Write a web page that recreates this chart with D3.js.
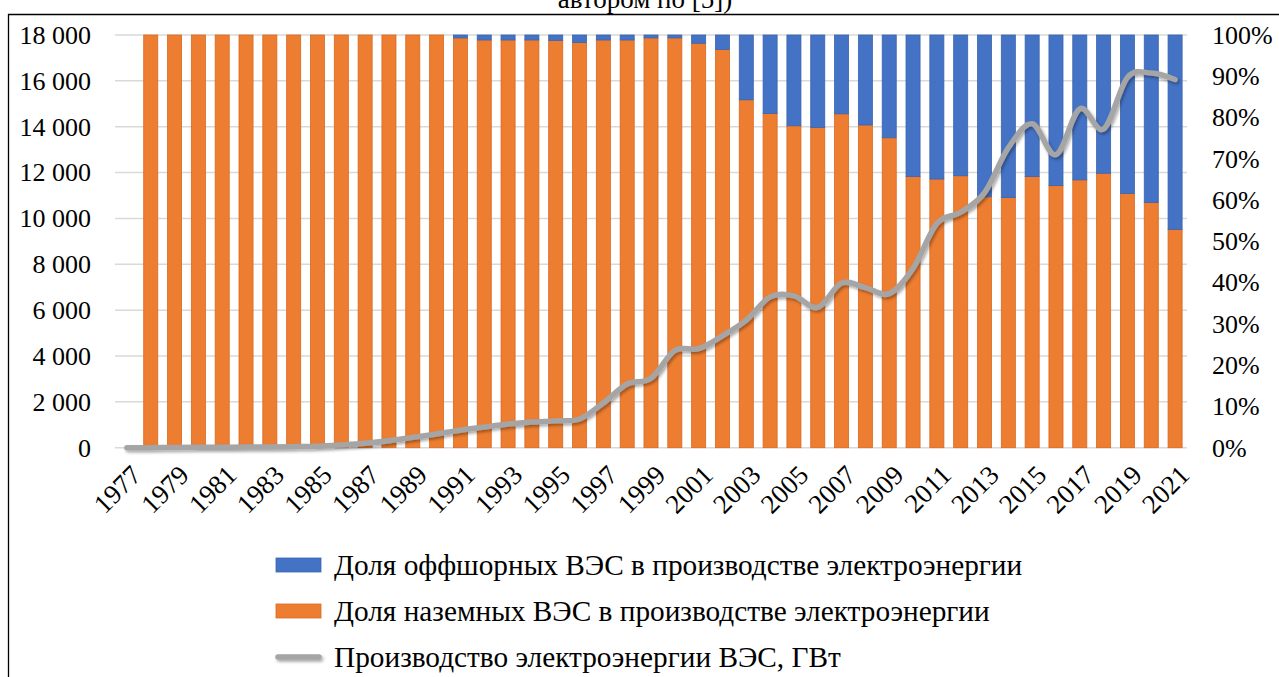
<!DOCTYPE html>
<html>
<head>
<meta charset="utf-8">
<script src="https://cdn.jsdelivr.net/npm/d3@7"></script>
<style>
  html, body { margin: 0; padding: 0; background: #fff; }
  svg { display: block; font-family: "Liberation Serif", "Times New Roman", serif; }
</style>
</head>
<body>
<svg id="chart" width="1279" height="677"></svg>
<script>
// Годы (категории оси X)
const years = [1977, 1978, 1979, 1980, 1981, 1982, 1983, 1984, 1985, 1986,
  1987, 1988, 1989, 1990, 1991, 1992, 1993, 1994, 1995, 1996,
  1997, 1998, 1999, 2000, 2001, 2002, 2003, 2004, 2005, 2006,
  2007, 2008, 2009, 2010, 2011, 2012, 2013, 2014, 2015, 2016,
  2017, 2018, 2019, 2020, 2021];

// Производство электроэнергии ВЭС (левая ось)
const production = [0, 0, 10, 15, 20, 30, 35, 45, 65, 120,
  190, 300, 450, 600, 760, 900, 1030, 1120, 1170, 1250,
  1950, 2780, 3030, 4240, 4320, 4880, 5560, 6580, 6620, 6120,
  7180, 6980, 6720, 7820, 9780, 10270, 11120, 13080, 14130, 12780,
  14780, 13900, 16150, 16340, 16060];

// Доля оффшорных ВЭС, % (правая ось); за 1977 г. столбца нет
const offshoreShare = [null, 0, 0, 0, 0, 0, 0, 0, 0, 0,
  0, 0, 0, 0, 0.7, 1.2, 1.2, 1.2, 1.3, 1.8,
  1.2, 1.2, 0.7, 0.7, 2.0, 3.5, 15.7, 19.0, 22.0, 22.4,
  19.1, 21.8, 24.9, 34.3, 34.9, 34.1, 39.2, 39.4, 34.3, 36.5,
  35.1, 33.5, 38.4, 40.6, 47.1];

// Доля наземных ВЭС, %
const onshoreShare = [null, 100, 100, 100, 100, 100, 100, 100, 100, 100,
  100, 100, 100, 100, 99.3, 98.8, 98.8, 98.8, 98.7, 98.2,
  98.8, 98.8, 99.3, 99.3, 98.0, 96.5, 84.3, 81.0, 78.0, 77.6,
  80.9, 78.2, 75.1, 65.7, 65.1, 65.9, 60.8, 60.6, 65.7, 63.5,
  64.9, 66.5, 61.6, 59.4, 52.9];

const leftTicks = [0, 2000, 4000, 6000, 8000, 10000, 12000, 14000, 16000, 18000];
const rightTicks = [0, 10, 20, 30, 40, 50, 60, 70, 80, 90, 100];

const legendItems = [
  "Доля оффшорных ВЭС в производстве электроэнергии",
  "Доля наземных ВЭС в производстве электроэнергии",
  "Производство электроэнергии ВЭС, ГВт"
];

const COLORS = { offshore: "#4472C4", onshore: "#ED7D31", line: "#A5A5A5", grid: "#D9D9D9" };
const SERIF = "'Liberation Serif', 'Times New Roman', serif";

const svg = d3.select("#chart");

// рамка рисунка и окончание подписи сверху
svg.append("text")
  .attr("x", 645).attr("y", 8)
  .attr("text-anchor", "middle")
  .attr("font-size", 27)
  .attr("fill", "#000")
  .text("автором по [5])");
svg.append("path")
  .attr("d", "M8.5,677 V14.5 H1279")
  .attr("fill", "none")
  .attr("stroke", "#000")
  .attr("stroke-width", 1.3);

const plotLeft = 115, plotRight = 1187, plotTop = 35, plotBottom = 447.7;

const x = d3.scaleBand()
  .domain(years)
  .range([plotLeft, plotRight])
  .paddingInner(0.41)
  .paddingOuter(0.205);
const cx = d => x(d) + x.bandwidth() / 2;

const yLeft = d3.scaleLinear().domain([0, 18000]).range([plotBottom, plotTop]);
const yRight = d3.scaleLinear().domain([0, 100]).range([plotBottom, plotTop]);

// сетка
svg.append("g").selectAll("line")
  .data(leftTicks)
  .join("line")
  .attr("x1", plotLeft).attr("x2", plotRight)
  .attr("y1", d => yLeft(d)).attr("y2", d => yLeft(d))
  .attr("stroke", COLORS.grid)
  .attr("stroke-width", 1.5);

// столбцы: наземные снизу, оффшорные сверху
const barData = years.map((yr, i) => ({ yr, on: onshoreShare[i], off: offshoreShare[i] }))
  .filter(d => d.on !== null);

const bars = svg.append("g");
bars.selectAll("rect.on")
  .data(barData)
  .join("rect")
  .attr("class", "on")
  .attr("x", d => x(d.yr))
  .attr("width", x.bandwidth())
  .attr("y", d => yRight(d.on))
  .attr("height", d => yRight(0) - yRight(d.on))
  .attr("fill", COLORS.onshore)
  .attr("stroke", "#D9691F")
  .attr("stroke-width", 0.8);
bars.selectAll("rect.off")
  .data(barData.filter(d => d.off > 0))
  .join("rect")
  .attr("class", "off")
  .attr("x", d => x(d.yr))
  .attr("width", x.bandwidth())
  .attr("y", d => yRight(d.on + d.off))
  .attr("height", d => yRight(d.on) - yRight(d.on + d.off))
  .attr("fill", COLORS.offshore)
  .attr("stroke", "#3A64B0")
  .attr("stroke-width", 0.8);

// тень линии (область фильтра в координатах рисунка, чтобы работала и на прямом отрезке)
const defs = svg.append("defs");
const f = defs.append("filter").attr("id", "lineShadow")
  .attr("filterUnits", "userSpaceOnUse")
  .attr("x", 0).attr("y", 0).attr("width", 1279).attr("height", 677);
f.append("feDropShadow")
  .attr("dx", 1.5).attr("dy", 2)
  .attr("stdDeviation", 1.6)
  .attr("flood-color", "#000")
  .attr("flood-opacity", 0.35);

const line = d3.line()
  .x((d, i) => cx(years[i]))
  .y(d => yLeft(d))
  .curve(d3.curveCardinal.tension(0));

svg.append("path")
  .datum(production)
  .attr("d", line)
  .attr("fill", "none")
  .attr("stroke", COLORS.line)
  .attr("stroke-width", 5.5)
  .attr("stroke-linecap", "round")
  .attr("stroke-linejoin", "round")
  .attr("filter", "url(#lineShadow)");

// оси
const fmt = d3.formatLocale({ decimal: ",", thousands: " ", grouping: [3], currency: ["", ""] }).format(",d");

const axL = svg.append("g")
  .attr("transform", `translate(${plotLeft - 24},0)`)
  .call(d3.axisLeft(yLeft).tickValues(leftTicks).tickFormat(fmt).tickSize(0).tickPadding(0));
axL.attr("font-family", SERIF).attr("font-size", 26);
axL.select(".domain").remove();
axL.selectAll("text").attr("fill", "#000");

const axR = svg.append("g")
  .attr("transform", `translate(${plotRight + 25},0)`)
  .call(d3.axisRight(yRight).tickValues(rightTicks).tickFormat(d => d + "%").tickSize(0).tickPadding(0));
axR.attr("font-family", SERIF).attr("font-size", 26);
axR.select(".domain").remove();
axR.selectAll("text").attr("fill", "#000");

// подписи лет (через одну), повернуты на -45°
const labelYears = years.filter((d, i) => i % 2 === 0);
svg.append("g")
  .attr("font-family", SERIF)
  .selectAll("text")
  .data(labelYears)
  .join("text")
  .attr("transform", d => `translate(${cx(d) + 16},${plotBottom + 29}) rotate(-45)`)
  .attr("text-anchor", "end")
  .attr("font-size", 27)
  .attr("fill", "#000")
  .text(d => d);

// легенда
const lg = svg.append("g").attr("font-family", SERIF);
const rowsY = [565, 611, 657];
lg.append("rect").attr("x", 276).attr("y", rowsY[0] - 7).attr("width", 45).attr("height", 14)
  .attr("fill", COLORS.offshore).attr("stroke", "#3A64B0").attr("stroke-width", 0.8);
lg.append("rect").attr("x", 276).attr("y", rowsY[1] - 7).attr("width", 45).attr("height", 14)
  .attr("fill", COLORS.onshore).attr("stroke", "#D9691F").attr("stroke-width", 0.8);
lg.append("line").attr("x1", 278).attr("x2", 319).attr("y1", rowsY[2]).attr("y2", rowsY[2])
  .attr("stroke", COLORS.line).attr("stroke-width", 5.5).attr("stroke-linecap", "round")
  .attr("filter", "url(#lineShadow)");
lg.selectAll("text")
  .data(legendItems)
  .join("text")
  .attr("x", 334)
  .attr("y", (d, i) => rowsY[i])
  .attr("dy", "0.35em")
  .attr("font-size", 29.3)
  .attr("fill", "#000")
  .text(d => d);
</script>
</body>
</html>
